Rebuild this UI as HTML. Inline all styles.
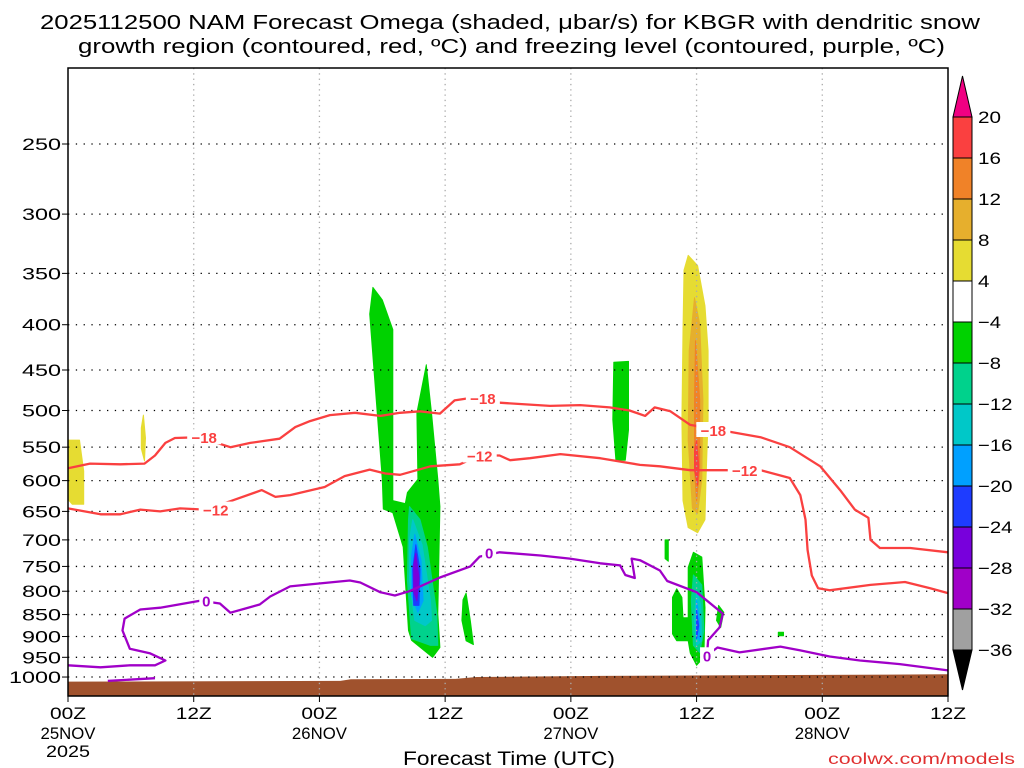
<!DOCTYPE html>
<html><head><meta charset="utf-8"><style>
body{margin:0;background:#fff;}
svg{display:block;font-family:"Liberation Sans",sans-serif;}
</style></head><body>
<svg id="chart" width="1024" height="768" viewBox="0 0 1024 768" xmlns="http://www.w3.org/2000/svg">
<text x="40" y="29" font-size="20" textLength="940" lengthAdjust="spacingAndGlyphs" fill="#000">2025112500 NAM Forecast Omega (shaded, μbar/s) for KBGR with dendritic snow</text>
<text x="78" y="53" font-size="20" textLength="867" lengthAdjust="spacingAndGlyphs" fill="#000">growth region (contoured, red, ºC) and freezing level (contoured, purple, ºC)</text>
<g id="fills"></g><g id="grid"></g><g id="lines"></g><g id="axes"></g><g id="cbar"></g>
<text x="403" y="765" font-size="19" textLength="212" lengthAdjust="spacingAndGlyphs">Forecast Time (UTC)</text>
<text x="828" y="764" font-size="16" textLength="187" lengthAdjust="spacingAndGlyphs" fill="#e03030">coolwx.com/models</text>
</svg>
<script>
const pTicks=[250,300,350,400,450,500,550,600,650,700,750,800,850,900,950,1000];
const xTickHours=[0,12,24,36,48,60,72,84];
const xTickTop=["00Z","12Z","00Z","12Z","00Z","12Z","00Z","12Z"];
const xTickMid=["25NOV","","26NOV","","27NOV","","28NOV",""];
const cbarLevels=[20,16,12,8,4,-4,-8,-12,-16,-20,-24,-28,-32,-36];
const cbarColors=["#fa4040","#f08228","#e6af2d","#e6dc32","#ffffff","#00d200","#00d28c","#00c8c8","#00a0ff","#1e3cff","#7800dc","#a000c8","#a0a0a0"];
const terrain=[[0,1012],[26,1010],[27,1006],[37,1005],[39,1000],[51,997],[84,993]];
const omegaYellowSmallA=[[0,540],[1.1,540],[1.5,585],[1.5,638],[0.4,638],[0,630]];
const omegaYellowSmallB=[[7.2,506],[7.4,537],[7.3,570],[7,552],[7,523]];
const omegaYellowBig=[[59.2,334],[60.1,343],[60.8,381],[61.1,428],[61.1,512],[60.9,598],[60.8,664],[60.1,687],[59.2,678],[58.7,632],[58.6,512],[58.7,405],[58.8,347]];
const omegaGold=[[59.8,373],[60.3,399],[60.6,486],[60.5,598],[60.1,653],[59.6,645],[59.2,540],[59.3,428]];
const omegaOrange=[[59.9,417],[60.3,486],[60.3,584],[60,632],[59.8,584],[59.8,486]];
const omegaRed=[[60,540],[60.2,577],[60.1,607],[59.8,584],[59.8,555]];
const omegaGreenA=[[29.1,363],[30,375],[31,405],[31,632],[32.2,637],[32.4,619],[33.4,598],[33.3,503],[34.2,444],[34.7,503],[35.3,598],[35.5,642],[35.3,848],[35.5,926],[34.8,950],[32.8,909],[32.5,886],[32,713],[31,652],[30.1,646],[30,598],[28.8,389]];
const omegaTealA=[[32.6,642],[33.6,664],[34.3,713],[35.2,848],[35.3,921],[34.6,921],[32.8,905],[32.4,778],[32.5,664]];
const omegaCyanA=[[32.9,664],[33.8,709],[34.6,820],[34.7,863],[34.1,875],[33.1,863],[32.6,778],[32.6,700]];
const omegaLtBlueA=[[33.1,690],[33.7,738],[33.9,820],[33.4,845],[32.8,809],[32.8,729]];
const omegaBlueA=[[33.2,709],[33.6,756],[33.5,830],[33,830],[32.9,756]];
const omegaPurpleA=[[33.2,725],[33.5,773],[33.3,820],[33,802],[33,747]];
const omegaGreenB=[[38,804],[38.4,863],[38.7,919],[38,910],[37.6,863],[37.7,818]];
const omegaGreenC=[[52.1,441],[53.5,440],[53.5,526],[53.2,569],[52.3,569],[52,512]];
const omegaGreenD=[[59.7,723],[60.5,732],[60.8,835],[60.7,950],[60,970],[59.4,940],[59.2,910],[58.1,910],[57.7,894],[57.7,813],[58.1,795],[58.6,813],[58.7,857],[59.2,857],[59.2,752]];
const omegaTealD=[[59.7,767],[60.5,787],[60.7,886],[60.3,938],[59.7,921],[59.5,820]];
const omegaCyanD=[[60,798],[60.4,830],[60.5,910],[60,921],[59.8,863]];
const omegaLtBlueD=[[60,820],[60.3,863],[60.3,910],[60,898]];
const omegaBlueD=[[60,841],[60.2,875],[60,905],[60,868]];
const omegaGreenE=[[57,700],[57.3,700],[57.3,740],[57,735]];
const omegaGreenF=[[62.1,830],[62.6,845],[62.3,879],[61.9,863]];
const omegaGreenG=[[67.8,890],[68.3,890],[68.3,898],[67.8,898]];
const dgzTop=[[0,581],[2.1,574],[5,575],[7.3,574],[8.3,562],[9.3,544],[10.2,537],[12.6,536],[14,543],[15.5,550],[17.4,544],[20.2,538],[21.7,522],[23.1,514],[25,506],[27.4,503],[29.8,507],[31.7,503],[33.6,501],[35.5,504],[36.9,487],[38.4,484],[41.2,490],[46,494],[48.9,493],[51.7,496],[53.6,500],[55.1,507],[56,496],[57.5,501],[59.4,519],[62.2,526],[66.1,536],[68.9,550],[71.8,578],[73.7,615],[75.1,647],[76.4,661],[76.6,700],[77.5,715],[80.4,715],[84,723]];
const dgzBottom=[[0,645],[3.1,655],[5,655],[6.9,647],[8.8,650],[10.7,645],[13.1,647],[15.5,633],[18.5,615],[19.8,626],[21.2,623],[24.5,610],[26.4,593],[28.8,583],[30.3,589],[31.7,591],[34.6,578],[37.4,575],[39.3,562],[41.2,562],[42.2,569],[44.1,566],[47,560],[50.8,566],[54.6,576],[56.5,578],[59.4,584],[66.1,584],[68.9,596],[69.9,623],[70.4,664],[70.6,719],[71,768],[71.6,794],[72.7,798],[76.6,787],[79.9,781],[82.3,794],[84,804]];
const frzLevel=[[0,970],[3.1,975],[5.9,970],[8.3,970],[9.3,958],[7.8,940],[5.9,929],[5.2,886],[5.4,859],[6.9,839],[8.8,835],[12.6,820],[14.5,826],[15.5,846],[16.9,837],[18.3,828],[19.3,811],[21.2,790],[23.1,786],[26.9,778],[27.9,782],[29.8,802],[31.2,809],[32.6,800],[35.5,772],[38.4,750],[39.3,731],[41.2,723],[45.1,729],[47.9,735],[50.8,744],[52.7,748],[53.2,767],[54.1,773],[53.8,735],[54.6,738],[56.5,758],[57.2,779],[60,802],[62.5,848],[62.2,879],[61.1,909],[61,945],[62,926],[64.1,938],[68,924],[69.9,933],[72.7,948],[75.6,958],[79.4,967],[84,983]];
const frzLevelB=[[3.8,1010],[8.3,1003]];
const dgzLabels=[[13,536,"-18"],[39.6,484,"-18"],[61.6,526,"-18"],[14.1,647,"-12"],[39.3,562,"-12"],[64.6,584,"-12"]];
const frzLabels=[[13.2,820,"0"],[40.2,723,"0"],[61,945,"0"]];

const X0=68,X1=948,Y0=68,Y1=696,H=84;
const PTOP=250*Math.exp(-76/384.5), PBOT=250*Math.exp((Y1-144)/384.5);
function xs(h){return X0+(h/H)*(X1-X0);}
function ys(p){return Y0+(Math.log(p)-Math.log(PTOP))/(Math.log(PBOT)-Math.log(PTOP))*(Y1-Y0);}
const NS="http://www.w3.org/2000/svg";
function mk(tag,attrs,parent){const e=document.createElementNS(NS,tag);for(const k in attrs)e.setAttribute(k,attrs[k]);parent.appendChild(e);return e;}
function pts(a){return a.map(d=>xs(d[0]).toFixed(1)+","+ys(d[1]).toFixed(1)).join(" ");}
const fills=document.getElementById("fills"),grid=document.getElementById("grid"),lines=document.getElementById("lines"),axes=document.getElementById("axes"),cbar=document.getElementById("cbar");

let tstr=pts(terrain)+" "+xs(84)+","+Y1+" "+xs(0)+","+Y1;
let t=mk("polygon",{points:tstr,fill:"#a0522d"},fills);



const regions=[[omegaYellowSmallA,3],[omegaYellowSmallB,3],[omegaYellowBig,3],[omegaGold,2],[omegaOrange,1],[omegaRed,0],
[omegaGreenA,5],[omegaTealA,6],[omegaCyanA,7],[omegaLtBlueA,8],[omegaBlueA,9],[omegaPurpleA,10],[omegaGreenB,5],[omegaGreenC,5],
[omegaGreenD,5],[omegaTealD,6],[omegaCyanD,7],[omegaLtBlueD,8],[omegaBlueD,9],[omegaGreenE,5],[omegaGreenF,5],[omegaGreenG,5]];
regions.forEach(r=>{
  const e=mk("polygon",{points:pts(r[0]),fill:cbarColors[r[1]],"stroke":cbarColors[r[1]],"stroke-width":1,"stroke-linejoin":"round"},fills);
  
  
});

function wtext(parent,x,y,str,anchor,cw,fs){
  const w=str.length*cw;
  let x0=anchor==="end"?x-w:(anchor==="middle"?x-w/2:x);
  const tx=mk("text",{x:x0,y:y,"font-size":fs,textLength:w,lengthAdjust:"spacingAndGlyphs"},parent);
  tx.textContent=str;
  return tx;
}
pTicks.forEach(p=>{
  const y=ys(p);
  const l=mk("line",{x1:X0,x2:X1,y1:y,y2:y,stroke:"#000","stroke-width":1.3,"stroke-dasharray":"1.3 6.5"},grid);
  
  
  const tk=mk("line",{x1:X0-6,x2:X0,y1:y,y2:y,stroke:"#000"},axes);
  
  
  const tx=wtext(axes,X0-7,y+6,String(p),"end",13,17);
  
  
});
xTickHours.forEach((h,i)=>{
  const x=xs(h);
  if(i>0&&i<xTickHours.length-1){
    const l=mk("line",{x1:x,x2:x,y1:Y0,y2:Y1,stroke:"#aaa","stroke-width":1.3,"stroke-dasharray":"1.3 4"},grid);
    
    
  }
  const tk=mk("line",{x1:x,x2:x,y1:Y1,y2:Y1+6,stroke:"#000"},axes);
  
  
  const a=wtext(axes,x,719,xTickTop[i],"middle",12,17);
  
  
  if(xTickMid[i]){
    const b=wtext(axes,x,739,xTickMid[i],"middle",11,17);
    
    
  }
});
const yr=wtext(axes,xs(0),757,"2025","middle",11,17);



function line(arr,col,name){
  const e=mk("polyline",{points:pts(arr),fill:"none",stroke:col,"stroke-width":2.3,"stroke-linejoin":"round"},lines);
  
  
}
line(dgzTop,"#fa4040","dgz-contour-minus18");
line(dgzBottom,"#fa4040","dgz-contour-minus12");
line(frzLevel,"#a000c8","freezing-level-contour");
line(frzLevelB,"#a000c8","freezing-level-contour-b");
function labels(arr,col,name){
  arr.forEach(d=>{
    const x=xs(d[0]),y=ys(d[1]);
    const bw=d[2].length*10+4;
    const r=mk("rect",{x:x-bw/2,y:y-8,width:bw,height:15,fill:"#fff"},lines);
    
    
    const tx=mk("text",{x:x,y:y+6,"font-size":15,"font-weight":"bold","text-anchor":"middle",fill:col},lines);
    tx.textContent=d[2].replace("-","−");
    
    
  });
}
labels(dgzLabels,"#fa4040","dgz-contour-label");
labels(frzLabels,"#a000c8","freezing-level-label");

const fr=mk("rect",{x:X0,y:Y0,width:X1-X0,height:Y1-Y0,fill:"none",stroke:"#000","stroke-width":1.5},axes);



const CBX=953,CBW=19,CBT=117,CBS=41;
cbarColors.forEach((c,i)=>{
  const r=mk("rect",{x:CBX,y:CBT+i*CBS,width:CBW,height:CBS,fill:c,stroke:"#000","stroke-width":1},cbar);
  
  
});
cbarLevels.forEach((v,i)=>{
  const s=v<0?"−"+Math.abs(v):String(v);
  const tx=wtext(cbar,978,CBT+i*CBS+6,s,"start",11.5,17);
  
  
});
const ua=mk("polygon",{points:`${CBX},${CBT} ${CBX+CBW},${CBT} ${CBX+CBW/2},76`,fill:"#f00082",stroke:"#000"},cbar);


const yb=CBT+cbarColors.length*CBS;
const da=mk("polygon",{points:`${CBX},${yb} ${CBX+CBW},${yb} ${CBX+CBW/2},690`,fill:"#000",stroke:"#000"},cbar);


</script>
</body></html>
